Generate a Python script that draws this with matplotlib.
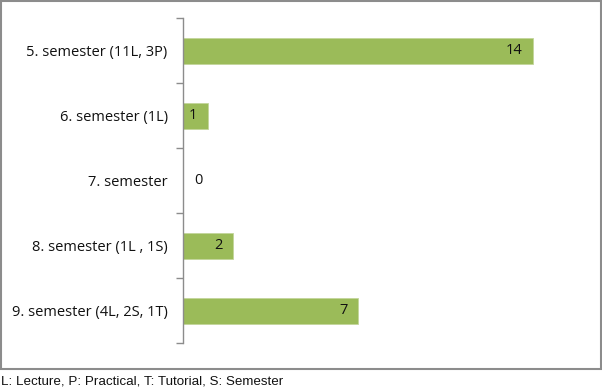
import matplotlib.pyplot as plt
from matplotlib.patches import Rectangle

categories = ["5. semester (11L, 3P)", "6. semester (1L)", "7. semester",
              "8. semester (1L , 1S)", "9. semester (4L, 2S, 1T)"]
counts = [14, 1, 0, 2, 7]
footnote = "L: Lecture, P: Practical, T: Tutorial, S: Semester"

W, H = 602, 391
fig = plt.figure(figsize=(W / 100, H / 100), dpi=100)
fig.patches.append(Rectangle((1 / W, 1 - 369 / H), 600 / W, 368 / H,
                             transform=fig.transFigure, fill=False,
                             edgecolor="#8c8c8c", linewidth=1.5))

ax = fig.add_axes([183 / W, 1 - 343 / H, 400 / W, 325 / H])
y = list(range(len(categories)))
ax.barh(y, counts, height=0.4, color="#9bbb59", edgecolor="#c3d69b", linewidth=0.6)
ax.set_xlim(0, 16)
ax.set_ylim(len(categories) - 0.5, -0.5)

for yi, v in zip(y, counts):
    if v > 0:
        ax.text(v - 0.42, yi, str(v), ha="right", va="center",
                fontsize=10.5, color="#111111", family="Open Sans")
    else:
        ax.text(0.63, yi, str(v), ha="center", va="center",
                fontsize=10.5, color="#111111", family="Open Sans")

ax.set_yticks(y)
ax.set_yticklabels(categories, family="Open Sans", fontsize=10.5, color="#111111")
ax.tick_params(axis="y", which="major", length=0, pad=11)
ax.set_yticks([i - 0.5 for i in range(len(categories) + 1)], minor=True)
ax.tick_params(axis="y", which="minor", length=5, color="#8c8c8c", width=1)
ax.set_xticks([])
for s in ["top", "right", "bottom"]:
    ax.spines[s].set_visible(False)
ax.spines["left"].set_color("#8c8c8c")
ax.spines["left"].set_linewidth(1)

fig.text(1 / W, 1 - 382 / H, footnote, ha="left", va="center",
         fontsize=9.6, family="Liberation Sans", color="#111111")

fig.savefig("out.png", dpi=100)
